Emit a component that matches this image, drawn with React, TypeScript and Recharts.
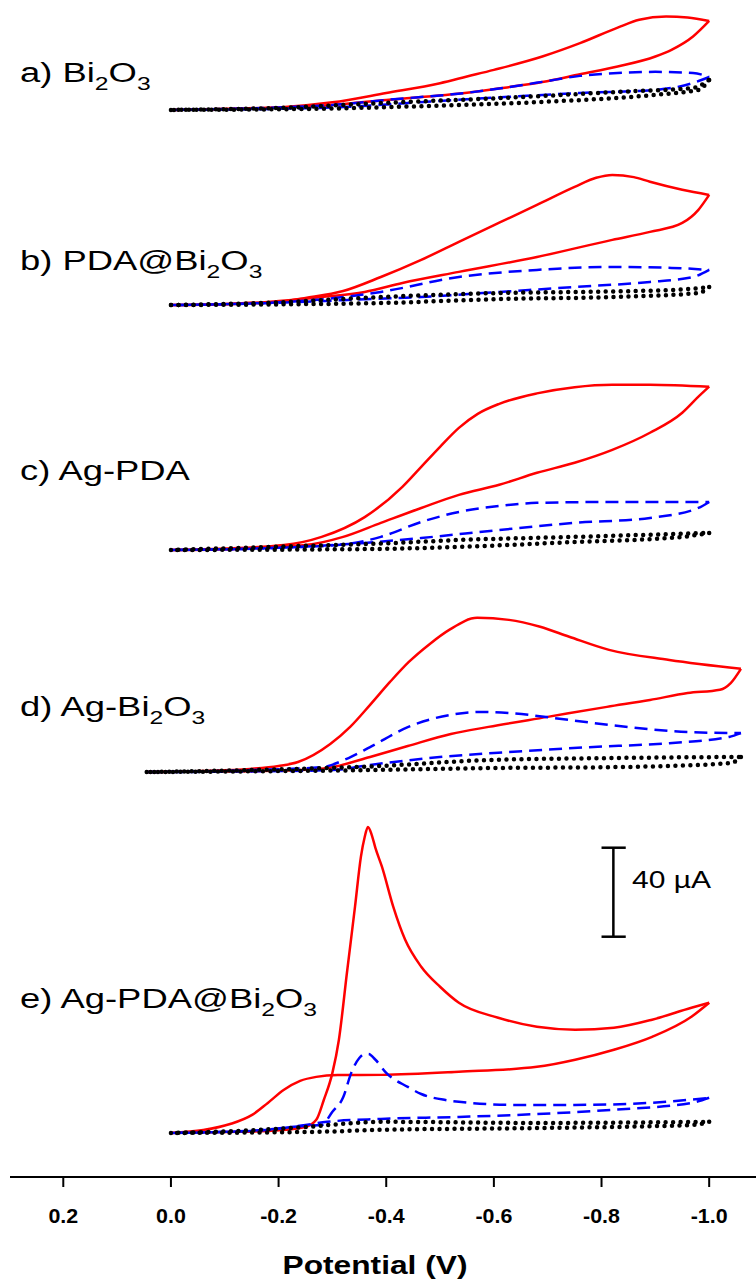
import { LineChart, Line, XAxis, YAxis, ReferenceLine } from "recharts"

// each point: [potential (V), current (µA) above the panel baseline]
type Pt = [number, number]

// a) Bi2O3
const aRedFwd: Pt[] = [[0, 0], [-0.1, 0.4], [-0.2, 1.1], [-0.3, 3.4], [-0.4, 7.6], [-0.5, 12], [-0.55, 15], [-0.6, 18], [-0.69, 24], [-0.76, 30], [-0.83, 37], [-0.87, 40.5], [-0.92, 42], [-0.96, 41.5], [-1.0, 40]]
const aRedRev: Pt[] = [[-1.0, 40], [-0.97, 33], [-0.93, 27], [-0.9, 24], [-0.83, 19.5], [-0.76, 16], [-0.69, 12.5], [-0.62, 10], [-0.55, 7.7], [-0.4, 4.5], [-0.3, 2.2], [-0.2, 1.1], [-0.1, 0.4], [0, 0]]
const aBlueFwd: Pt[] = [[0, 0], [-0.2, 1.1], [-0.3, 2.2], [-0.4, 4.5], [-0.55, 7.7], [-0.62, 10], [-0.69, 12.6], [-0.76, 15.3], [-0.83, 16.6], [-0.9, 17.1], [-0.97, 16.6], [-1.0, 14.8]]
const aBlueRev: Pt[] = [[-1.0, 14.8], [-0.97, 12.1], [-0.9, 9], [-0.76, 7.6], [-0.62, 5.8], [-0.47, 3.6], [-0.33, 1.4], [-0.2, 0.5], [0, 0]]
const aBlackFwd: Pt[] = [[0, 0], [-0.2, 0.9], [-0.4, 3.2], [-0.62, 5.4], [-0.83, 8.1], [-0.97, 9.9], [-1.0, 13.5]]
const aBlackRev: Pt[] = [[-1.0, 13.5], [-0.98, 9], [-0.9, 6.8], [-0.69, 3.6], [-0.48, 1.8], [-0.27, 0.5], [0, 0]]

// b) PDA@Bi2O3
const bRedFwd: Pt[] = [[0, 0], [-0.1, 0.4], [-0.2, 1.4], [-0.25, 3.2], [-0.32, 6.3], [-0.39, 12.6], [-0.465, 20.3], [-0.535, 28.4], [-0.61, 37], [-0.68, 45], [-0.75, 53.1], [-0.79, 57.2], [-0.82, 58.5], [-0.86, 57.5], [-0.89, 55.4], [-0.95, 51.8], [-1.0, 49.5]]
const bRedRev: Pt[] = [[-1.0, 49.5], [-0.98, 42.8], [-0.95, 36.9], [-0.89, 32.9], [-0.82, 29.3], [-0.68, 21.6], [-0.535, 14.9], [-0.43, 9.9], [-0.36, 5.9], [-0.28, 3.6], [-0.18, 1.4], [-0.1, 0.5], [0, 0]]
const bBlueFwd: Pt[] = [[0, 0], [-0.1, 0.4], [-0.2, 1.2], [-0.3, 3], [-0.39, 5.9], [-0.535, 12.6], [-0.68, 15.8], [-0.82, 17.1], [-0.93, 16.7], [-1.0, 15.8]]
const bBlueRev: Pt[] = [[-1.0, 15.8], [-0.97, 12.6], [-0.89, 10.4], [-0.75, 8.1], [-0.61, 5.9], [-0.465, 3.6], [-0.32, 2.2], [-0.2, 1], [0, 0]]
const bBlackFwd: Pt[] = [[0, 0], [-0.2, 1.2], [-0.39, 3.6], [-0.61, 5.4], [-0.82, 6.1], [-0.95, 7], [-1.0, 8.1]]
const bBlackRev: Pt[] = [[-1.0, 8.1], [-0.98, 5.4], [-0.82, 3.6], [-0.61, 2.7], [-0.39, 0.9], [-0.2, 0.3], [0, 0]]

// c) Ag-PDA
const cRedFwd: Pt[] = [[0, 0], [-0.1, 0.7], [-0.21, 2.2], [-0.28, 5.9], [-0.36, 14.8], [-0.43, 28.4], [-0.465, 37.4], [-0.5, 46.4], [-0.535, 54.9], [-0.57, 61.2], [-0.61, 65.7], [-0.68, 70.4], [-0.75, 73.2], [-0.82, 74.3], [-0.89, 74.3], [-1.0, 73.4]]
const cRedRev: Pt[] = [[-1.0, 73.4], [-0.98, 68.9], [-0.95, 61.7], [-0.89, 52.7], [-0.82, 45], [-0.75, 39.2], [-0.68, 34.7], [-0.61, 29.3], [-0.535, 24.8], [-0.465, 18.9], [-0.39, 12.2], [-0.32, 5.9], [-0.25, 2.2], [-0.12, 0.5], [0, 0]]
const cBlueFwd: Pt[] = [[0, 0], [-0.2, 1], [-0.32, 2.5], [-0.39, 5.9], [-0.465, 12.6], [-0.535, 17.1], [-0.61, 19.8], [-0.68, 21.2], [-0.82, 21.6], [-1.0, 21.6]]
const cBlueRev: Pt[] = [[-1.0, 21.6], [-0.98, 18.9], [-0.89, 14.4], [-0.75, 12.2], [-0.61, 9], [-0.465, 5.4], [-0.36, 3.2], [-0.2, 1], [0, 0]]
const cBlackFwd: Pt[] = [[0, 0], [-0.2, 1.5], [-0.4, 3], [-0.535, 4.5], [-0.75, 5.9], [-1.0, 7.7]]
const cBlackRev: Pt[] = [[-1.0, 7.7], [-0.95, 5.9], [-0.75, 3.6], [-0.535, 1.4], [-0.39, 0.5], [0, 0]]

// d) Ag-Bi2O3
const dRedFwd: Pt[] = [[0.045, 0], [-0.054, 0.5], [-0.147, 1.4], [-0.2, 2.7], [-0.236, 4.5], [-0.296, 12.6], [-0.333, 20.3], [-0.37, 30.2], [-0.407, 40.5], [-0.442, 49.5], [-0.481, 57.6], [-0.517, 63.9], [-0.569, 69.3], [-0.628, 68.4], [-0.686, 65.3], [-0.74, 60.8], [-0.814, 54.9], [-0.926, 50.4], [-1.059, 46.4]]
const dRedRev: Pt[] = [[-1.059, 46.4], [-1.04, 40], [-1.02, 37], [-0.96, 35.5], [-0.89, 32.4], [-0.81, 29.3], [-0.7, 24.8], [-0.59, 20.3], [-0.52, 17.1], [-0.44, 11.7], [-0.37, 6.8], [-0.3, 2.2], [-0.24, 0.9], [-0.15, 0.4], [0.045, 0]]
const dBlueFwd: Pt[] = [[0.045, 0], [-0.15, 0.9], [-0.28, 2.2], [-0.33, 6.3], [-0.37, 11.2], [-0.44, 20.2], [-0.517, 25.6], [-0.576, 27], [-0.628, 26.5], [-0.74, 23.4], [-0.85, 20.2], [-0.96, 18], [-1.059, 17.5]]
const dBlueRev: Pt[] = [[-1.059, 17.5], [-1.037, 15.8], [-0.926, 13], [-0.777, 11.2], [-0.628, 9], [-0.48, 6.3], [-0.37, 3.2], [-0.3, 0.9], [-0.15, 0.3], [0.045, 0]]
const dBlackFwd: Pt[] = [[0.045, 0], [-0.15, 0.9], [-0.37, 2.5], [-0.59, 5.4], [-0.82, 6.3], [-1.059, 6.8]]
const dBlackRev: Pt[] = [[-1.059, 6.8], [-1.04, 4], [-0.82, 2.2], [-0.59, 1.8], [-0.37, 0.9], [0.045, 0]]

// e) Ag-PDA@Bi2O3
const eRedFwd: Pt[] = [[0, 0], [-0.1, 0.4], [-0.18, 0.9], [-0.25, 2.7], [-0.27, 5.9], [-0.284, 14.8], [-0.3, 27], [-0.312, 41.8], [-0.327, 72], [-0.342, 101.7], [-0.353, 124.2], [-0.36, 133], [-0.366, 137.5], [-0.373, 134], [-0.38, 128], [-0.392, 119.7], [-0.413, 101.7], [-0.435, 86.9], [-0.465, 74.7], [-0.5, 65.7], [-0.535, 58.5], [-0.608, 51.8], [-0.68, 47.7], [-0.751, 46.4], [-0.823, 47.3], [-0.894, 50.9], [-0.967, 56.3], [-1.0, 58.5]]
const eRedRev: Pt[] = [[-1.0, 58.5], [-0.967, 52.2], [-0.894, 43.2], [-0.823, 37.4], [-0.751, 32.9], [-0.68, 29.7], [-0.535, 27.5], [-0.392, 26.1], [-0.31, 26], [-0.27, 25.2], [-0.24, 23.4], [-0.21, 19.4], [-0.18, 13.5], [-0.15, 8], [-0.11, 4], [-0.06, 1.3], [0, 0]]
const eBlueFwd: Pt[] = [[0, 0], [-0.15, 1], [-0.25, 3.2], [-0.28, 3.6], [-0.3, 9.5], [-0.32, 16], [-0.335, 27], [-0.35, 33.7], [-0.36, 35.5], [-0.367, 35.5], [-0.38, 32.9], [-0.4, 27], [-0.44, 20.7], [-0.465, 17.5], [-0.51, 14.8], [-0.535, 14], [-0.64, 12.6], [-0.75, 12.6], [-0.89, 13.5], [-1.0, 15.8]]
const eBlueRev: Pt[] = [[-1.0, 15.8], [-0.967, 13.5], [-0.82, 10.4], [-0.68, 8.5], [-0.535, 7.2], [-0.39, 6.3], [-0.29, 5], [-0.25, 3.6], [-0.18, 1.4], [-0.1, 0.5], [0, 0]]
const eBlackFwd: Pt[] = [[0, 0], [-0.15, 1.2], [-0.25, 2.7], [-0.39, 5], [-0.68, 4.5], [-1.0, 5]]
const eBlackRev: Pt[] = [[-1.0, 5], [-0.97, 3.6], [-0.68, 2.2], [-0.39, 1.4], [-0.27, 0.5], [0, 0]]

// stacking offsets of each panel (µA above the x axis)
const offsets = { a: 479.6, b: 391.9, c: 281.8, d: 182, e: 19.8 }

const xTicks = [0.2, 0, -0.2, -0.4, -0.6, -0.8, -1.0]
const scaleBarUA = 40

const FONT = '"Liberation Sans", Arial, sans-serif'

const curveStyle: Record<string, any> = {
  red: { stroke: "#ff0000", strokeWidth: 2.5 },
  blue: { stroke: "#0000ff", strokeWidth: 2.5, strokeDasharray: "13 7" },
  black: { stroke: "#000000", strokeWidth: 4.5, strokeDasharray: "0 7.5", strokeLinecap: "round" },
}

const series: { key: string; pts: Pt[]; off: number; color: string }[] = [
  ["a", aRedFwd, aRedRev, aBlueFwd, aBlueRev, aBlackFwd, aBlackRev],
  ["b", bRedFwd, bRedRev, bBlueFwd, bBlueRev, bBlackFwd, bBlackRev],
  ["c", cRedFwd, cRedRev, cBlueFwd, cBlueRev, cBlackFwd, cBlackRev],
  ["d", dRedFwd, dRedRev, dBlueFwd, dBlueRev, dBlackFwd, dBlackRev],
  ["e", eRedFwd, eRedRev, eBlueFwd, eBlueRev, eBlackFwd, eBlackRev],
].flatMap(([id, ...curves]: any[]) =>
  curves.map((pts: Pt[], i: number) => ({
    key: `${id}-${i}`,
    pts,
    off: offsets[id as keyof typeof offsets],
    color: ["red", "red", "blue", "blue", "black", "black"][i],
  }))
)

const labels = [
  { name: "a) Bi", sub: ["2", "3"], y: 82 },
  { name: "b) PDA@Bi", sub: ["2", "3"], y: 270 },
  { name: "c) Ag-PDA", sub: null, y: 480 },
  { name: "d) Ag-Bi", sub: ["2", "3"], y: 716 },
  { name: "e) Ag-PDA@Bi", sub: ["2", "3"], y: 1008 },
]

function Tick({ x, payload }: any) {
  return (
    <g transform={`translate(${x},1223) scale(1.02,1)`}>
      <text textAnchor="middle" fontFamily={FONT} fontWeight="bold" fontSize={21} fill="#000">
        {Number(payload.value).toFixed(1)}
      </text>
    </g>
  )
}

export default function App() {
  const barX = -0.822
  const barY0 = 108
  return (
    <div style={{ position: "absolute", left: 0, top: 0, width: 756, height: 1279, background: "#fff" }}>
      <LineChart width={756} height={1279} margin={{ top: 0, right: 0, left: 10, bottom: 42 }}>
        <XAxis
          dataKey="e"
          type="number"
          domain={[-1.087, 0.299]}
          reversed
          allowDataOverflow
          ticks={xTicks}
          tick={<Tick />}
          tickSize={10}
          height={60}
          stroke="#000"
          strokeWidth={2}
        />
        <YAxis hide width={0} type="number" domain={[0, 529]} allowDataOverflow />
        {series.map((s) => (
          <Line
            key={s.key}
            data={s.pts.map(([e, i]) => ({ e, i: i + s.off }))}
            dataKey="i"
            type="monotone"
            dot={false}
            activeDot={false}
            isAnimationActive={false}
            {...curveStyle[s.color]}
          />
        ))}
        <ReferenceLine segment={[{ x: barX, y: barY0 }, { x: barX, y: barY0 + scaleBarUA }]} stroke="#000" strokeWidth={2.5} />
        <ReferenceLine segment={[{ x: -0.8, y: barY0 }, { x: -0.845, y: barY0 }]} stroke="#000" strokeWidth={2.5} />
        <ReferenceLine segment={[{ x: -0.8, y: barY0 + scaleBarUA }, { x: -0.845, y: barY0 + scaleBarUA }]} stroke="#000" strokeWidth={2.5} />
      </LineChart>
      <svg width={756} height={1279} style={{ position: "absolute", left: 0, top: 0, pointerEvents: "none" }}>
        {labels.map((l) => (
          <g key={l.name} transform={`translate(20,${l.y}) scale(1.3,1)`}>
            <text fontFamily={FONT} fontSize={28} fill="#000">
              {l.name}
              {l.sub && (
                <>
                  <tspan fontSize={19} dy={8}>{l.sub[0]}</tspan>
                  <tspan dy={-8}>O</tspan>
                  <tspan fontSize={19} dy={8}>{l.sub[1]}</tspan>
                </>
              )}
            </text>
          </g>
        ))}
        <g transform="translate(632,888) scale(1.25,1)">
          <text fontFamily={FONT} fontSize={24} fill="#000">{`${scaleBarUA} µA`}</text>
        </g>
        <g transform="translate(375,1274) scale(1.22,1)">
          <text textAnchor="middle" fontFamily={FONT} fontWeight="bold" fontSize={26} fill="#000">
            Potential (V)
          </text>
        </g>
      </svg>
    </div>
  )
}
